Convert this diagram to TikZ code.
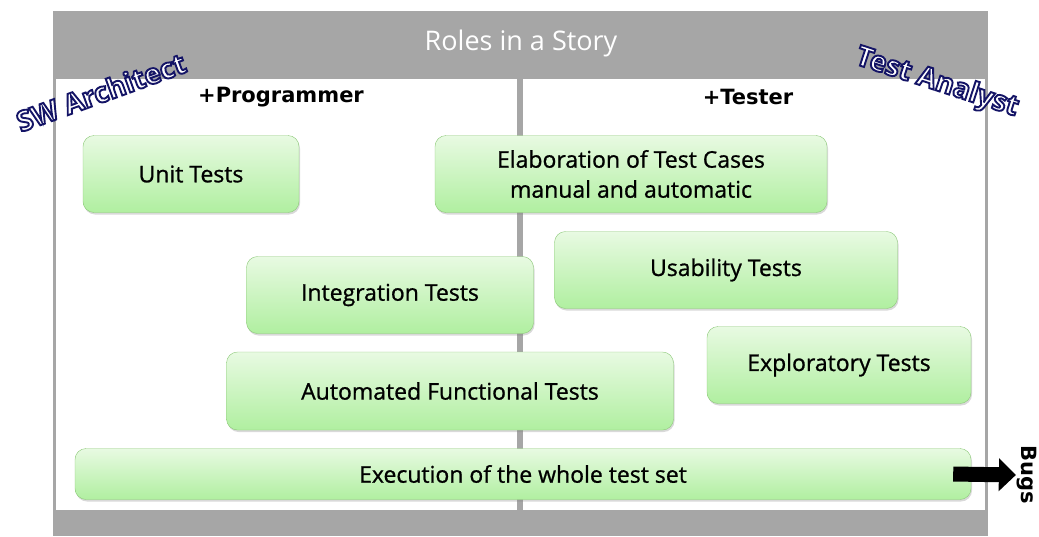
\documentclass[tikz,border=0pt]{standalone}
\usepackage{fontspec}
\setmainfont{Open Sans}
\newfontfamily\headFont{DejaVu Sans}
\usetikzlibrary{shadows,arrows.meta}

\definecolor{bandGray}{HTML}{A6A6A6}
\definecolor{boxTop}{HTML}{E8FAE2}
\definecolor{boxBottom}{HTML}{B0EFA0}
\definecolor{boxBorder}{HTML}{8CC878}

% white letters with a dark blue outline
\newcommand{\outlineText}[1]{\textcolor{white}{\special{pdf:literal direct 2 Tr 1.9 w 0.08 0.08 0.40 RG}#1\special{pdf:literal direct 0 Tr}}}

\tikzset{
	testBox/.style={draw=boxBorder, rounded corners=11pt, top color=boxTop,
		bottom color=boxBottom, drop shadow={shadow xshift=1pt, shadow yshift=-2pt, opacity=0.3},
		align=center, inner sep=0pt, font=\addfontfeatures{FakeBold=0.9}\fontsize{23}{30}\selectfont},
	roleHead/.style={font=\headFont\bfseries\fontsize{21}{25}\selectfont},
	roleTag/.style={font=\bfseries\fontsize{28}{30}\selectfont, inner sep=0pt},
}

\begin{document}
\begin{tikzpicture}[x=1pt, y=-1pt]
	\useasboundingbox (0,0) rectangle (1039,536);
	
	% Frame of the story
	\fill[bandGray] (53,11) rectangle (988,79);
	\fill[bandGray] (53,510) rectangle (988,536);
	\fill[bandGray] (53,79) rectangle (56,510);
	\fill[bandGray] (985,79) rectangle (988,510);
	\fill[bandGray] (517,79) rectangle (523,510);
	
	\node[text=white, font=\fontsize{27}{30}\selectfont] (title) at (521,43) {Roles in a Story};
	
	% Roles
	\node[roleHead] (prog) at (281,97) {+Programmer};
	\node[roleHead] (tester) at (748,97) {+Tester};
	
	% Tests
	\node[testBox, minimum width=216, minimum height=77] (unit) at (191,174) {Unit Tests};
	\node[testBox, minimum width=392, minimum height=77] (elab) at (631,174) {Elaboration of Test Cases\\manual and automatic};
	\node[testBox, minimum width=343, minimum height=77] (usab) at (726,270) {Usability Tests};
	\node[testBox, minimum width=287, minimum height=77] (integ) at (390,295) {Integration Tests};
	\node[testBox, minimum width=264, minimum height=77] (explo) at (839,365) {Exploratory Tests};
	\node[testBox, minimum width=447, minimum height=78] (autofunc) at (450,391) {Automated Functional Tests};
	\node[testBox, minimum width=896, minimum height=51] (exec) at (523,474) {Execution of the whole test set};
	
	% Result
	\node[font=\headFont\bfseries\fontsize{21}{25}\selectfont, rotate=-90, inner sep=1pt] (bugs) at (1027,475) {Bugs};
	\draw[line width=15pt, -{Triangle[length=17pt, width=32pt]}] ([xshift=-18pt]exec.east) -- (bugs.south);
	
	% Who is involved
	\node[roleTag, rotate=20] (arch) at (101,92) {\outlineText{SW Architect}};
	\node[roleTag, rotate=-18] (analyst) at (937,83) {\outlineText{Test Analyst}};
\end{tikzpicture}
\end{document}
